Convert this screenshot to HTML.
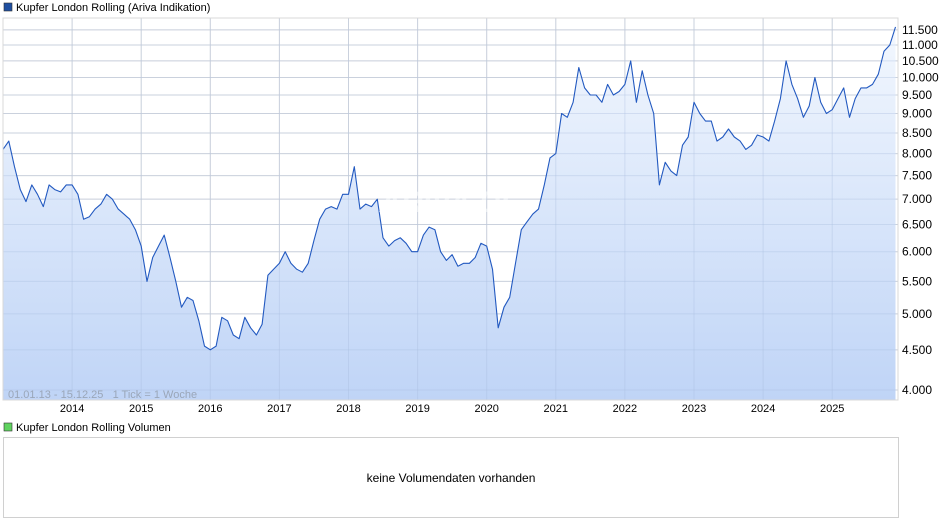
<!DOCTYPE html>
<html><head><meta charset="utf-8"><style>
body{margin:0;background:#fff;font-family:"Liberation Sans",sans-serif;}
svg{display:block}
</style></head><body>
<svg width="940" height="526" xmlns="http://www.w3.org/2000/svg" font-family="Liberation Sans, sans-serif">
<defs>
<linearGradient id="fillg" x1="0" y1="0" x2="0" y2="1">
<stop offset="0" stop-color="#f2f7fe"/><stop offset="1" stop-color="#bcd2f6"/>
</linearGradient>
</defs>
<rect x="4" y="3" width="8" height="8" fill="#1f4fa0" stroke="#333" stroke-width="0.6"/>
<text x="16" y="11" font-size="11" fill="#000">Kupfer London Rolling (Ariva Indikation)</text>
<g id="grid"></g>
<g id="series"></g>
<text x="450" y="212" font-size="30" font-style="italic" font-weight="bold" fill="#fff" opacity="0.5" text-anchor="middle">ARIVA.DE</text>
<rect x="3" y="18" width="895" height="382" fill="none" stroke="#d8d8d8"/>
<text x="8" y="398" font-size="11" fill="#9aa6b8" xml:space="preserve" style="white-space:pre">01.01.13 - 15.12.25   1 Tick = 1 Woche</text>
<g id="yax"></g>
<g id="xax"></g>
<rect x="4" y="423" width="8" height="8" fill="#5fd35f" stroke="#333" stroke-width="0.6"/>
<text x="16" y="431" font-size="11" fill="#000">Kupfer London Rolling Volumen</text>
<rect x="3.5" y="437.5" width="895" height="80" fill="#fff" stroke="#d0d0d0"/>
<text x="451" y="482" font-size="12" text-anchor="middle" fill="#000">keine Volumendaten vorhanden</text>
</svg>
<script>
const yTicks=[4000,4500,5000,5500,6000,6500,7000,7500,8000,8500,9000,9500,10000,10500,11000,11500];
const yTickLabels=["4.000","4.500","5.000","5.500","6.000","6.500","7.000","7.500","8.000","8.500","9.000","9.500","10.000","10.500","11.000","11.500"];
const xYears=[2014,2015,2016,2017,2018,2019,2020,2021,2022,2023,2024,2025];
const prices=[
8100,8300,7700,7200,6950,7300,7100,6850,7300,7200,7150,7300,
7300,7100,6600,6650,6800,6900,7100,7000,6800,6700,6600,6400,
6100,5500,5900,6100,6300,5900,5500,5100,5250,5200,4900,4550,
4500,4550,4950,4900,4700,4650,4950,4800,4700,4850,5600,5700,
5800,6000,5800,5700,5650,5800,6200,6600,6800,6850,6800,7100,
7100,7700,6800,6900,6850,7000,6250,6100,6200,6250,6150,6000,
6000,6300,6450,6400,6000,5850,5950,5750,5800,5800,5900,6150,
6100,5700,4800,5100,5250,5800,6400,6550,6700,6800,7300,7900,
8000,9000,8900,9300,10300,9700,9500,9500,9300,9800,9500,9600,
9800,10500,9300,10200,9500,9000,7300,7800,7600,7500,8200,8400,
9300,9000,8800,8800,8300,8400,8600,8400,8300,8100,8200,8450,
8400,8300,8800,9400,10500,9800,9400,8900,9200,10000,9300,9000,
9100,9400,9700,8900,9400,9700,9700,9800,10100,10800,11000,11600];
const NS="http://www.w3.org/2000/svg";
const X0=3,X1=898,Y0=18,Y1=400;
const startYear=2013, pxYear=69.1;
function xT(t){return X0+(t-startYear)*pxYear;}
function yV(v){return 390-Math.log(v/4000)*341;}
function mk(tag,attrs,parent){const e=document.createElementNS(NS,tag);for(const k in attrs)e.setAttribute(k,attrs[k]);parent.appendChild(e);return e;}
const grid=document.getElementById('grid'),yax=document.getElementById('yax'),xax=document.getElementById('xax'),ser=document.getElementById('series');
mk('rect',{x:X0,y:Y0,width:X1-X0,height:Y1-Y0,fill:'#fff'},grid);
yTicks.forEach((v,i)=>{const y=yV(v);
 const l=mk('line',{x1:X0,x2:X1,y1:y,y2:y,stroke:'#dcdcdc'},grid);
 
 
 const t=mk('text',{x:902,y:y+4,'font-size':12,fill:'#000'},yax);t.textContent=yTickLabels[i];
 
 
});
xYears.forEach(yr=>{const x=xT(yr);
 const l=mk('line',{x1:x,x2:x,y1:Y0,y2:Y1,stroke:'#dcdcdc'},grid);
 
 
 const t=mk('text',{x:x,y:412,'font-size':11,'text-anchor':'middle',fill:'#000'},xax);t.textContent=yr;
 
 
});
const step=pxYear/12;
let pts=prices.map((v,i)=>[X0+i*step,yV(v)]);
let d=pts.map((p,i)=>(i?'L':'M')+p[0].toFixed(1)+','+p[1].toFixed(1)).join('');
const area=mk('path',{d:d+'L'+pts[pts.length-1][0].toFixed(1)+','+Y1+'L'+X0+','+Y1+'Z',fill:'url(#fillg)',opacity:0.95},ser);


yTicks.forEach(v=>{const y=yV(v);const l=mk('line',{x1:X0,x2:X1,y1:y,y2:y,stroke:'#a9bde0','stroke-opacity':0.35},ser);
 
 });
xYears.forEach(yr=>{const x=xT(yr);const l=mk('line',{x1:x,x2:x,y1:Y0,y2:Y1,stroke:'#a9bde0','stroke-opacity':0.35},ser);
 
 });
const line=mk('path',{d:d,fill:'none',stroke:'#2259c0','stroke-width':1.1,'stroke-linejoin':'round'},ser);


</script>
</body></html>
